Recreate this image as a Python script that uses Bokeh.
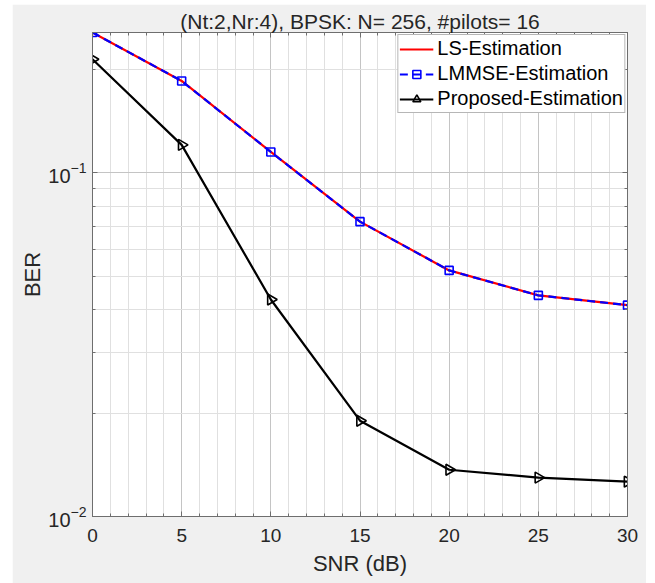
import numpy as np
from bokeh.plotting import figure
from bokeh.models import (Range1d, FixedTicker, LinearAxis, LogAxis,
                          Legend, LegendItem, CustomJSTickFormatter)
from bokeh.embed import file_html
from bokeh.resources import INLINE

# ---- data ----
snr_db = [0, 5, 10, 15, 20, 25, 30]
ber_ls = [0.256, 0.185, 0.115, 0.0721, 0.0520, 0.0440, 0.0412]
ber_lmmse = [0.256, 0.185, 0.115, 0.0721, 0.0520, 0.0440, 0.0412]
ber_proposed = [0.214, 0.1206, 0.0428, 0.0190, 0.01368, 0.01298, 0.01263]

x_ticks = [0, 5, 10, 15, 20, 25, 30]
x_minor_ticks = list(range(0, 31))
y_ticks = [0.01, 0.1]
y_minor_ticks = [0.02, 0.03, 0.04, 0.05, 0.06, 0.07, 0.08, 0.09, 0.2]

title_text = "(Nt:2,Nr:4), BPSK: N= 256, #pilots= 16"
FONT = "Liberation Sans"
TXT = "#262626"
AX = "#6e6e6e"

p = figure(width=634, height=579, y_axis_type="log",
           x_range=Range1d(0, 30), y_range=Range1d(0.01, 0.256),
           output_backend="svg", toolbar_location=None,
           min_border_left=80, min_border_right=19,
           min_border_top=28, min_border_bottom=67)
p.margin = (4, 0, 0, 12)
p.background_fill_color = "white"
p.border_fill_color = "#f0f0f0"
p.outline_line_color = AX
p.outline_line_width = 1

p.title.text = title_text
p.title.align = "center"
p.title.text_font = FONT
p.title.text_font_size = "21px"
p.title.text_font_style = "normal"
p.title.text_color = TXT
p.title.standoff = 0
p.title.offset = 0

# axes
xt = FixedTicker(ticks=x_ticks, minor_ticks=x_minor_ticks)
yt = FixedTicker(ticks=y_ticks, minor_ticks=y_minor_ticks)
p.xaxis.ticker = xt
p.yaxis.ticker = yt

for ax in (p.xaxis[0], p.yaxis[0]):
    ax.axis_line_color = AX
    ax.major_tick_line_color = AX
    ax.minor_tick_line_color = AX
    ax.major_tick_in = 5
    ax.major_tick_out = 0
    ax.minor_tick_in = 3
    ax.minor_tick_out = 0
    ax.major_label_text_font = FONT
    ax.major_label_text_color = TXT
    ax.axis_label_text_font = FONT
    ax.axis_label_text_font_size = "22px"
    ax.axis_label_text_font_style = "normal"
    ax.axis_label_text_color = TXT

p.xaxis.major_label_text_font_size = "19px"
p.xaxis.major_label_standoff = 12
p.xaxis.axis_label = "SNR (dB)"
p.xaxis.axis_label_standoff = 6
p.yaxis.major_label_text_font_size = "20px"
p.yaxis.major_label_standoff = 6
p.yaxis.axis_label = "BER"
p.yaxis.axis_label_standoff = 0

empty = CustomJSTickFormatter(code="return ''")
top_ax = LinearAxis(ticker=xt, formatter=empty)
right_ax = LogAxis(ticker=yt, formatter=empty)
for ax in (top_ax, right_ax):
    ax.axis_line_color = AX
    ax.major_tick_line_color = AX
    ax.minor_tick_line_color = AX
    ax.major_tick_in = 5
    ax.major_tick_out = 0
    ax.minor_tick_in = 3
    ax.minor_tick_out = 0
    ax.major_label_standoff = 0
    ax.major_label_text_font_size = "1px"
p.add_layout(top_ax, "above")
p.add_layout(right_ax, "right")

# grid
for g in (p.xgrid[0], p.ygrid[0]):
    g.grid_line_color = "#c4c4c4"
    g.grid_line_width = 1
    g.minor_grid_line_color = "#e0e0e0"
    g.minor_grid_line_width = 1

# series
r_ls = p.line(snr_db, ber_ls, line_color="#ff0000", line_width=2.2)
r_lm_line = p.line(snr_db, ber_lmmse, line_color="#0000ff", line_width=2.2,
                   line_dash="8 5")
r_lm_mark = p.scatter(snr_db, ber_lmmse, marker="square", size=8,
                      line_color="#0000ff", line_width=1.6, fill_color=None)
r_pr_line = p.line(snr_db, ber_proposed, line_color="black", line_width=2.2)
r_pr_mark = p.scatter(snr_db, ber_proposed, marker="triangle", size=11,
                      angle=-np.pi / 2, line_color="black", line_width=1.6,
                      fill_color=None)

legend = Legend(items=[
    LegendItem(label="LS-Estimation", renderers=[r_ls]),
    LegendItem(label="LMMSE-Estimation", renderers=[r_lm_line, r_lm_mark]),
    LegendItem(label="Proposed-Estimation", renderers=[r_pr_line, r_pr_mark]),
], location="top_right")
legend.margin = 2
legend.padding = 1
legend.spacing = 0
legend.glyph_width = 34
legend.glyph_height = 20
legend.label_height = 25
legend.label_standoff = 4
legend.label_text_font = FONT
legend.label_text_font_size = "20px"
legend.label_text_color = "black"
legend.border_line_color = AX
legend.border_line_width = 1
legend.background_fill_color = "white"
legend.background_fill_alpha = 1
p.add_layout(legend)

open("out.html", "w").write(file_html(p, INLINE))
